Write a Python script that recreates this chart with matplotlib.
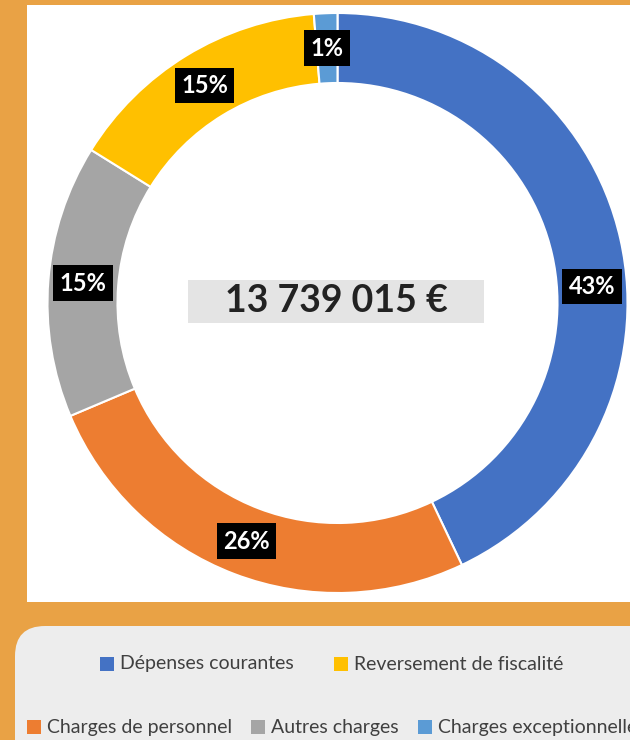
import numpy as np
import matplotlib
matplotlib.use("Agg")
import matplotlib.pyplot as plt
from matplotlib.patches import FancyBboxPatch, Rectangle

plt.rcParams['font.family'] = ['Lato', 'DejaVu Sans']

# data (euros)
categories = ["Dépenses courantes", "Charges de personnel", "Autres charges",
              "Reversement de fiscalité", "Charges exceptionnelles"]
amounts = [5900000, 3530000, 2090000, 2040000, 179015]
colors = ["#4472C4", "#ED7D31", "#A5A5A5", "#FFC000", "#5B9BD5"]

W, H = 630, 740
fig = plt.figure(figsize=(W / 100, H / 100), dpi=100)
fig.patch.set_facecolor("#E9A245")
ax = fig.add_axes([0, 0, 1, 1])

# white chart panel and grey legend panel (pixel coords, y from bottom)
ax.add_patch(Rectangle((27, H - 602), 700, 597, facecolor="white", edgecolor="none", zorder=0))
ax.add_patch(FancyBboxPatch((15, -60), 700, H - 626 + 60, boxstyle="round,pad=0,rounding_size=30",
                            facecolor="#EDEDED", edgecolor="none", zorder=0))

cx, cy, r_out, ring = 337.5, H - 303, 290, 70
wedges, _ = ax.pie(amounts, colors=colors, startangle=90, counterclock=False,
                   center=(cx, cy), radius=r_out, frame=True,
                   wedgeprops=dict(width=ring, edgecolor="white", linewidth=1.5))

total = sum(amounts)
shares = np.array(amounts) / total
# label angle tweak (degrees) for the first slice, moved like in the original
label_shift = {0: 9}
start = 0.0
r_lab = r_out - ring / 2
for i, s in enumerate(shares):
    mid = start + s * 180 + label_shift.get(i, 0)
    start += s * 360
    a = np.deg2rad(mid)
    ax.text(cx + r_lab * np.sin(a), cy + r_lab * np.cos(a), f"{s * 100:.0f}%",
            ha="center", va="center", color="white", fontsize=17, fontweight="bold",
            bbox=dict(boxstyle="square,pad=0.27", facecolor="black", edgecolor="none"), zorder=5)

# total in the middle
tot_txt = f"{total:,}".replace(",", " ") + " €"
ax.add_patch(Rectangle((188, H - 323), 296, 43, facecolor="#E4E4E4", edgecolor="none", zorder=3))
ax.text(336, H - 301, tot_txt, ha="center", va="center", fontsize=27, fontweight="bold",
        color="#222222", zorder=4)

# legend, drawn by hand to follow the two rows of the original
rows = [[(0, 100), (3, 334)], [(1, 27), (2, 251), (4, 418)]]
row_y = [664, 727]
for items, y in zip(rows, row_y):
    for idx, x in items:
        ax.add_patch(Rectangle((x, H - y - 7), 14, 14, facecolor=colors[idx], edgecolor="none", zorder=4))
        ax.text(x + 20, H - y, categories[idx], ha="left", va="center", fontsize=14,
                color="#404040", zorder=4)

ax.set_xlim(0, W)
ax.set_ylim(0, H)
ax.set_aspect("equal")
ax.axis("off")
fig.savefig("out.png", dpi=100, facecolor=fig.get_facecolor())
